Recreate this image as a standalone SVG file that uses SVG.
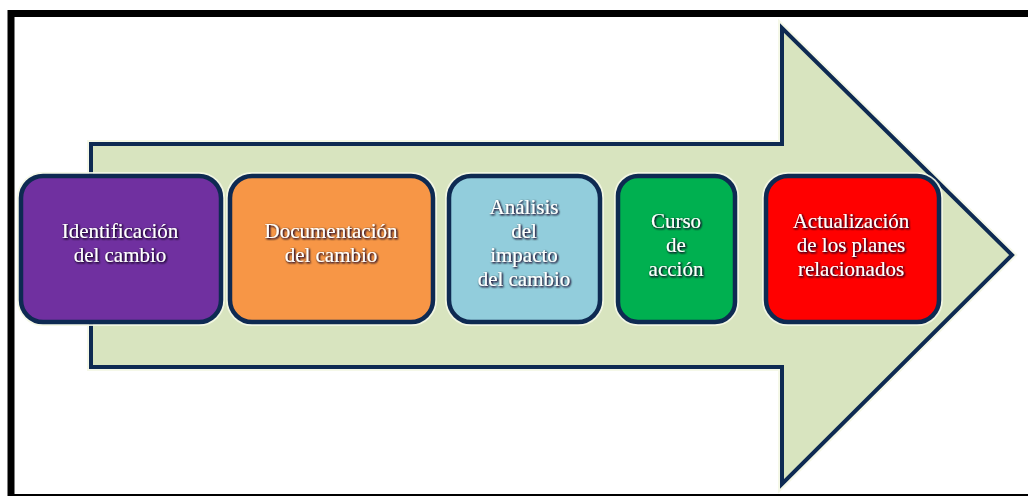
<svg xmlns="http://www.w3.org/2000/svg" width="1028" height="496" viewBox="0 0 1028 496">
  <defs>
    <style>
      .frame { fill: #ffffff; stroke: #000000; stroke-width: 7; }
      .arrow { fill: #d8e4bf; stroke: #0e2a52; stroke-width: 4; stroke-linejoin: miter; }
      .glow { fill: none; stroke: #f4f7e6; stroke-width: 8; opacity: 0.9; }
      .box { stroke: #0e2a52; stroke-width: 4.5; }
      .label { font-family: "Liberation Serif", "Times New Roman", serif; font-size: 21px; fill: #ffffff; text-anchor: middle; }
    </style>
    <filter id="halo" x="-20%" y="-40%" width="140%" height="180%">
      <feGaussianBlur in="SourceAlpha" stdDeviation="1.3" result="b"/>
      <feOffset in="b" dx="0.6" dy="0.8" result="o"/>
      <feFlood flood-color="#1a0a2a" flood-opacity="0.85"/>
      <feComposite in2="o" operator="in" result="s"/>
      <feMerge>
        <feMergeNode in="s"/>
        <feMergeNode in="s"/>
        <feMergeNode in="SourceGraphic"/>
      </feMerge>
    </filter>
  </defs>

  <!-- page frame (right and bottom edges run off the page) -->
  <rect class="frame" x="11" y="13.5" width="1030" height="484"/>

  <!-- large block arrow behind the steps -->
  <g id="arrow">
    <path class="glow" d="M91,144 H782 V28 L1012,255 L782,484 V367 H91 Z"/>
    <path class="arrow" d="M91,144 H782 V28 L1012,255 L782,484 V367 H91 Z"/>
  </g>

  <g id="connectors"></g>

  <g id="step1">
    <rect class="glow" x="21" y="176" width="200" height="146" rx="22"/>
    <rect class="box" x="21" y="176" width="200" height="146" rx="22" fill="#7030a0"/>
    <g class="label" filter="url(#halo)">
      <text x="120" y="238">Identificación</text>
      <text x="120" y="262">del cambio</text>
    </g>
  </g>

  <g id="step2">
    <rect class="glow" x="230" y="176" width="203" height="146" rx="22"/>
    <rect class="box" x="230" y="176" width="203" height="146" rx="22" fill="#f79646"/>
    <g class="label" filter="url(#halo)">
      <text x="331" y="238">Documentación</text>
      <text x="331" y="262">del cambio</text>
    </g>
  </g>

  <g id="step3">
    <rect class="glow" x="449" y="176" width="151" height="146" rx="22"/>
    <rect class="box" x="449" y="176" width="151" height="146" rx="22" fill="#92cddc"/>
    <g class="label" filter="url(#halo)">
      <text x="524" y="214">Análisis</text>
      <text x="524" y="238">del</text>
      <text x="524" y="262">impacto</text>
      <text x="524" y="286">del cambio</text>
    </g>
  </g>

  <g id="step4">
    <rect class="glow" x="618" y="176" width="117" height="146" rx="20"/>
    <rect class="box" x="618" y="176" width="117" height="146" rx="20" fill="#00b050"/>
    <g class="label" filter="url(#halo)">
      <text x="676" y="228">Curso</text>
      <text x="676" y="252">de</text>
      <text x="676" y="276">acción</text>
    </g>
  </g>

  <g id="step5">
    <rect class="glow" x="766" y="176" width="173" height="146" rx="22"/>
    <rect class="box" x="766" y="176" width="173" height="146" rx="22" fill="#ff0000"/>
    <g class="label" filter="url(#halo)">
      <text x="851" y="228">Actualización</text>
      <text x="851" y="252">de los planes</text>
      <text x="851" y="276">relacionados</text>
    </g>
  </g>
</svg>
